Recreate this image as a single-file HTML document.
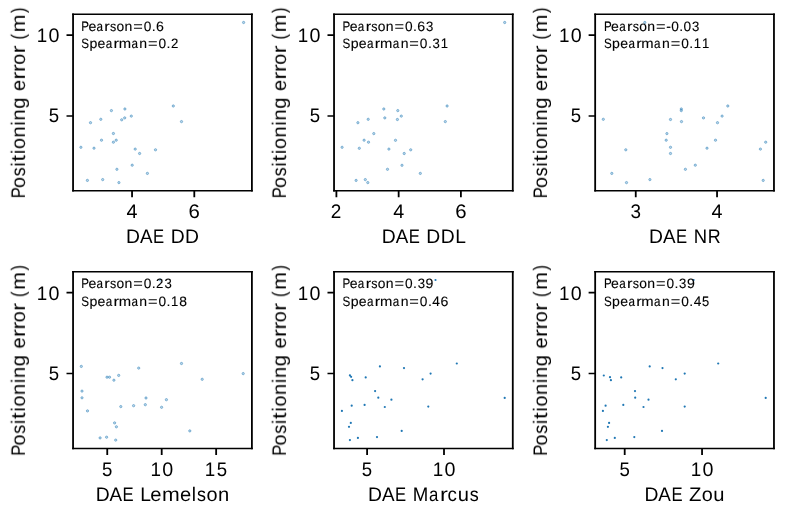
<!DOCTYPE html>
<html><head><meta charset="utf-8"><title>Positioning error vs DAE metrics</title>
<style>html,body{margin:0;padding:0;background:#fff;}body{width:785px;height:511px;overflow:hidden;}svg{display:block;font-family:"Liberation Sans",sans-serif;}text{will-change:transform;text-rendering:geometricPrecision;fill:#000;stroke:#000;}.l{font-size:19.64px;stroke-width:0.0px;}.a{font-size:13.65px;stroke-width:0.12px;}</style></head><body>
<svg width="785" height="511" viewBox="0 0 785 511">
<rect x="0" y="0" width="785" height="511" fill="#fff"/>
<g fill="#1f77b4" fill-opacity="0.3" stroke="#1f77b4" stroke-opacity="0.62" stroke-width="0.75"><circle cx="243.6" cy="22.5" r="1.15"/><circle cx="173.3" cy="106.0" r="1.15"/><circle cx="181.5" cy="121.6" r="1.15"/><circle cx="111.4" cy="110.6" r="1.15"/><circle cx="124.9" cy="109.0" r="1.15"/><circle cx="131.3" cy="116.1" r="1.15"/><circle cx="124.7" cy="117.9" r="1.15"/><circle cx="121.7" cy="119.8" r="1.15"/><circle cx="100.8" cy="119.3" r="1.15"/><circle cx="90.5" cy="122.7" r="1.15"/><circle cx="113.4" cy="133.5" r="1.15"/><circle cx="101.5" cy="140.2" r="1.15"/><circle cx="113.4" cy="142.2" r="1.15"/><circle cx="116.2" cy="140.2" r="1.15"/><circle cx="80.9" cy="147.3" r="1.15"/><circle cx="94.0" cy="148.2" r="1.15"/><circle cx="135.2" cy="149.1" r="1.15"/><circle cx="139.6" cy="153.5" r="1.15"/><circle cx="155.5" cy="149.8" r="1.15"/><circle cx="132.2" cy="165.2" r="1.15"/><circle cx="116.9" cy="169.3" r="1.15"/><circle cx="147.4" cy="173.4" r="1.15"/><circle cx="87.4" cy="180.4" r="1.15"/><circle cx="102.7" cy="179.6" r="1.15"/><circle cx="118.9" cy="182.6" r="1.15"/></g>
<g stroke="#000" fill="none"><path d="M73.06 13.49V191.58M251.90 13.49V191.58" stroke-width="1.8"/><path d="M72.16 14.27H252.80M72.16 190.80H252.80" stroke-width="1.55"/><path d="M66.51 35.10H73.06M66.51 115.90H73.06" stroke-width="1.55"/><path d="M132.05 190.80V197.35M194.30 190.80V197.35" stroke-width="1.8"/></g>
<g><text class="a" transform="matrix(1 0 0 1 80.90 31.00)" y="0"><tspan x="0.30" textLength="7.74" lengthAdjust="spacingAndGlyphs">P</tspan><tspan x="7.50" textLength="7.81" lengthAdjust="spacingAndGlyphs">e</tspan><tspan x="15.66" textLength="6.50" lengthAdjust="spacingAndGlyphs">a</tspan><tspan x="23.47" textLength="5.45" lengthAdjust="spacingAndGlyphs">r</tspan><tspan x="29.04" textLength="6.23" lengthAdjust="spacingAndGlyphs">s</tspan><tspan x="35.59" textLength="7.69" lengthAdjust="spacingAndGlyphs">o</tspan><tspan x="43.66" textLength="7.80" lengthAdjust="spacingAndGlyphs">n</tspan><tspan x="52.32" textLength="9.57" lengthAdjust="spacingAndGlyphs">=</tspan><tspan x="62.87" textLength="7.62" lengthAdjust="spacingAndGlyphs">0</tspan><tspan x="70.92" textLength="3.91" lengthAdjust="spacingAndGlyphs">.</tspan><tspan x="75.13" textLength="7.89" lengthAdjust="spacingAndGlyphs">6</tspan></text><text class="a" transform="matrix(1 0 0 1 80.90 48.00)" y="0"><tspan x="0.33" textLength="7.74" lengthAdjust="spacingAndGlyphs">S</tspan><tspan x="8.52" textLength="7.87" lengthAdjust="spacingAndGlyphs">p</tspan><tspan x="16.62" textLength="7.81" lengthAdjust="spacingAndGlyphs">e</tspan><tspan x="24.79" textLength="6.50" lengthAdjust="spacingAndGlyphs">a</tspan><tspan x="32.60" textLength="5.45" lengthAdjust="spacingAndGlyphs">r</tspan><tspan x="37.78" textLength="12.34" lengthAdjust="spacingAndGlyphs">m</tspan><tspan x="50.53" textLength="6.50" lengthAdjust="spacingAndGlyphs">a</tspan><tspan x="58.46" textLength="7.80" lengthAdjust="spacingAndGlyphs">n</tspan><tspan x="67.12" textLength="9.57" lengthAdjust="spacingAndGlyphs">=</tspan><tspan x="77.67" textLength="7.62" lengthAdjust="spacingAndGlyphs">0</tspan><tspan x="85.72" textLength="3.91" lengthAdjust="spacingAndGlyphs">.</tspan><tspan x="90.04" textLength="7.35" lengthAdjust="spacingAndGlyphs">2</tspan></text><text class="l" transform="matrix(1 0 0 1 36.16 42.00)" y="0"><tspan x="0.62" textLength="10.47" lengthAdjust="spacingAndGlyphs">1</tspan><tspan x="12.36" textLength="10.96" lengthAdjust="spacingAndGlyphs">0</tspan></text><text class="l" transform="matrix(1 0 0 1 48.06 122.00)" y="0"><tspan x="0.70" textLength="10.35" lengthAdjust="spacingAndGlyphs">5</tspan></text><text class="l" transform="matrix(1 0 0 1 126.10 218.00)" y="0"><tspan x="0.46" textLength="10.96" lengthAdjust="spacingAndGlyphs">4</tspan></text><text class="l" transform="matrix(1 0 0 1 188.35 218.00)" y="0"><tspan x="0.27" textLength="11.35" lengthAdjust="spacingAndGlyphs">6</tspan></text><text class="l" transform="matrix(1 0 0 1 125.77 243.00)" y="0"><tspan x="0.25" textLength="13.97" lengthAdjust="spacingAndGlyphs">D</tspan><tspan x="14.18" textLength="12.56" lengthAdjust="spacingAndGlyphs">A</tspan><tspan x="27.20" textLength="11.13" lengthAdjust="spacingAndGlyphs">E</tspan> <tspan x="44.87" textLength="13.97" lengthAdjust="spacingAndGlyphs">D</tspan><tspan x="59.27" textLength="13.97" lengthAdjust="spacingAndGlyphs">D</tspan></text><text class="l" transform="matrix(0 -1 1 0 24.90 198.78)" y="0"><tspan x="0.43" textLength="11.13" lengthAdjust="spacingAndGlyphs">P</tspan><tspan x="10.81" textLength="11.06" lengthAdjust="spacingAndGlyphs">o</tspan><tspan x="22.57" textLength="8.96" lengthAdjust="spacingAndGlyphs">s</tspan><tspan x="32.28" textLength="4.25" lengthAdjust="spacingAndGlyphs">i</tspan><tspan x="37.32" textLength="6.55" lengthAdjust="spacingAndGlyphs">t</tspan><tspan x="44.80" textLength="4.25" lengthAdjust="spacingAndGlyphs">i</tspan><tspan x="49.71" textLength="11.06" lengthAdjust="spacingAndGlyphs">o</tspan><tspan x="61.32" textLength="11.21" lengthAdjust="spacingAndGlyphs">n</tspan><tspan x="73.29" textLength="4.25" lengthAdjust="spacingAndGlyphs">i</tspan><tspan x="78.36" textLength="11.21" lengthAdjust="spacingAndGlyphs">n</tspan><tspan x="90.04" textLength="11.30" lengthAdjust="spacingAndGlyphs">g</tspan> <tspan x="107.84" textLength="11.23" lengthAdjust="spacingAndGlyphs">e</tspan><tspan x="119.36" textLength="7.85" lengthAdjust="spacingAndGlyphs">r</tspan><tspan x="126.72" textLength="7.85" lengthAdjust="spacingAndGlyphs">r</tspan><tspan x="134.01" textLength="11.06" lengthAdjust="spacingAndGlyphs">o</tspan><tspan x="145.44" textLength="7.85" lengthAdjust="spacingAndGlyphs">r</tspan> <tspan x="159.34" textLength="5.56" lengthAdjust="spacingAndGlyphs">(</tspan><tspan x="166.47" textLength="17.75" lengthAdjust="spacingAndGlyphs">m</tspan><tspan x="185.68" textLength="5.56" lengthAdjust="spacingAndGlyphs">)</tspan></text></g>
<g fill="#1f77b4" fill-opacity="0.3" stroke="#1f77b4" stroke-opacity="0.62" stroke-width="0.75"><circle cx="504.7" cy="22.5" r="1.15"/><circle cx="447.1" cy="106.0" r="1.15"/><circle cx="445.3" cy="121.6" r="1.15"/><circle cx="383.8" cy="109.0" r="1.15"/><circle cx="397.8" cy="110.6" r="1.15"/><circle cx="401.3" cy="116.1" r="1.15"/><circle cx="384.8" cy="117.9" r="1.15"/><circle cx="397.4" cy="119.5" r="1.15"/><circle cx="368.2" cy="119.3" r="1.15"/><circle cx="357.9" cy="122.7" r="1.15"/><circle cx="373.8" cy="133.6" r="1.15"/><circle cx="364.1" cy="140.2" r="1.15"/><circle cx="368.5" cy="142.2" r="1.15"/><circle cx="395.5" cy="140.3" r="1.15"/><circle cx="342.1" cy="147.3" r="1.15"/><circle cx="359.3" cy="148.3" r="1.15"/><circle cx="388.9" cy="149.1" r="1.15"/><circle cx="410.7" cy="149.8" r="1.15"/><circle cx="404.2" cy="153.5" r="1.15"/><circle cx="402.0" cy="165.3" r="1.15"/><circle cx="387.5" cy="169.3" r="1.15"/><circle cx="420.3" cy="173.4" r="1.15"/><circle cx="356.1" cy="180.4" r="1.15"/><circle cx="365.3" cy="179.6" r="1.15"/><circle cx="367.8" cy="182.6" r="1.15"/></g>
<g stroke="#000" fill="none"><path d="M334.04 13.49V191.58M512.78 13.49V191.58" stroke-width="1.8"/><path d="M333.14 14.27H513.68M333.14 190.80H513.68" stroke-width="1.55"/><path d="M327.49 35.10H334.04M327.49 115.90H334.04" stroke-width="1.55"/><path d="M336.40 190.80V197.35M398.65 190.80V197.35M460.90 190.80V197.35" stroke-width="1.8"/></g>
<g><text class="a" transform="matrix(1 0 0 1 342.20 31.00)" y="0"><tspan x="0.30" textLength="7.74" lengthAdjust="spacingAndGlyphs">P</tspan><tspan x="7.50" textLength="7.81" lengthAdjust="spacingAndGlyphs">e</tspan><tspan x="15.66" textLength="6.50" lengthAdjust="spacingAndGlyphs">a</tspan><tspan x="23.47" textLength="5.45" lengthAdjust="spacingAndGlyphs">r</tspan><tspan x="29.04" textLength="6.23" lengthAdjust="spacingAndGlyphs">s</tspan><tspan x="35.59" textLength="7.69" lengthAdjust="spacingAndGlyphs">o</tspan><tspan x="43.66" textLength="7.80" lengthAdjust="spacingAndGlyphs">n</tspan><tspan x="52.32" textLength="9.57" lengthAdjust="spacingAndGlyphs">=</tspan><tspan x="62.87" textLength="7.62" lengthAdjust="spacingAndGlyphs">0</tspan><tspan x="70.92" textLength="3.91" lengthAdjust="spacingAndGlyphs">.</tspan><tspan x="75.13" textLength="7.89" lengthAdjust="spacingAndGlyphs">6</tspan><tspan x="83.71" textLength="7.32" lengthAdjust="spacingAndGlyphs">3</tspan></text><text class="a" transform="matrix(1 0 0 1 342.20 48.00)" y="0"><tspan x="0.33" textLength="7.74" lengthAdjust="spacingAndGlyphs">S</tspan><tspan x="8.52" textLength="7.87" lengthAdjust="spacingAndGlyphs">p</tspan><tspan x="16.62" textLength="7.81" lengthAdjust="spacingAndGlyphs">e</tspan><tspan x="24.79" textLength="6.50" lengthAdjust="spacingAndGlyphs">a</tspan><tspan x="32.60" textLength="5.45" lengthAdjust="spacingAndGlyphs">r</tspan><tspan x="37.78" textLength="12.34" lengthAdjust="spacingAndGlyphs">m</tspan><tspan x="50.53" textLength="6.50" lengthAdjust="spacingAndGlyphs">a</tspan><tspan x="58.46" textLength="7.80" lengthAdjust="spacingAndGlyphs">n</tspan><tspan x="67.12" textLength="9.57" lengthAdjust="spacingAndGlyphs">=</tspan><tspan x="77.67" textLength="7.62" lengthAdjust="spacingAndGlyphs">0</tspan><tspan x="85.72" textLength="3.91" lengthAdjust="spacingAndGlyphs">.</tspan><tspan x="90.24" textLength="7.32" lengthAdjust="spacingAndGlyphs">3</tspan><tspan x="98.45" textLength="7.28" lengthAdjust="spacingAndGlyphs">1</tspan></text><text class="l" transform="matrix(1 0 0 1 297.14 42.00)" y="0"><tspan x="0.62" textLength="10.47" lengthAdjust="spacingAndGlyphs">1</tspan><tspan x="12.36" textLength="10.96" lengthAdjust="spacingAndGlyphs">0</tspan></text><text class="l" transform="matrix(1 0 0 1 309.04 122.00)" y="0"><tspan x="0.70" textLength="10.35" lengthAdjust="spacingAndGlyphs">5</tspan></text><text class="l" transform="matrix(1 0 0 1 330.45 218.00)" y="0"><tspan x="0.41" textLength="10.57" lengthAdjust="spacingAndGlyphs">2</tspan></text><text class="l" transform="matrix(1 0 0 1 392.70 218.00)" y="0"><tspan x="0.46" textLength="10.96" lengthAdjust="spacingAndGlyphs">4</tspan></text><text class="l" transform="matrix(1 0 0 1 454.95 218.00)" y="0"><tspan x="0.27" textLength="11.35" lengthAdjust="spacingAndGlyphs">6</tspan></text><text class="l" transform="matrix(1 0 0 1 381.49 243.00)" y="0"><tspan x="0.25" textLength="13.97" lengthAdjust="spacingAndGlyphs">D</tspan><tspan x="14.18" textLength="12.56" lengthAdjust="spacingAndGlyphs">A</tspan><tspan x="27.20" textLength="11.13" lengthAdjust="spacingAndGlyphs">E</tspan> <tspan x="44.87" textLength="13.97" lengthAdjust="spacingAndGlyphs">D</tspan><tspan x="59.27" textLength="13.97" lengthAdjust="spacingAndGlyphs">D</tspan><tspan x="73.68" textLength="10.70" lengthAdjust="spacingAndGlyphs">L</tspan></text><text class="l" transform="matrix(0 -1 1 0 285.90 198.78)" y="0"><tspan x="0.43" textLength="11.13" lengthAdjust="spacingAndGlyphs">P</tspan><tspan x="10.81" textLength="11.06" lengthAdjust="spacingAndGlyphs">o</tspan><tspan x="22.57" textLength="8.96" lengthAdjust="spacingAndGlyphs">s</tspan><tspan x="32.28" textLength="4.25" lengthAdjust="spacingAndGlyphs">i</tspan><tspan x="37.32" textLength="6.55" lengthAdjust="spacingAndGlyphs">t</tspan><tspan x="44.80" textLength="4.25" lengthAdjust="spacingAndGlyphs">i</tspan><tspan x="49.71" textLength="11.06" lengthAdjust="spacingAndGlyphs">o</tspan><tspan x="61.32" textLength="11.21" lengthAdjust="spacingAndGlyphs">n</tspan><tspan x="73.29" textLength="4.25" lengthAdjust="spacingAndGlyphs">i</tspan><tspan x="78.36" textLength="11.21" lengthAdjust="spacingAndGlyphs">n</tspan><tspan x="90.04" textLength="11.30" lengthAdjust="spacingAndGlyphs">g</tspan> <tspan x="107.84" textLength="11.23" lengthAdjust="spacingAndGlyphs">e</tspan><tspan x="119.36" textLength="7.85" lengthAdjust="spacingAndGlyphs">r</tspan><tspan x="126.72" textLength="7.85" lengthAdjust="spacingAndGlyphs">r</tspan><tspan x="134.01" textLength="11.06" lengthAdjust="spacingAndGlyphs">o</tspan><tspan x="145.44" textLength="7.85" lengthAdjust="spacingAndGlyphs">r</tspan> <tspan x="159.34" textLength="5.56" lengthAdjust="spacingAndGlyphs">(</tspan><tspan x="166.47" textLength="17.75" lengthAdjust="spacingAndGlyphs">m</tspan><tspan x="185.68" textLength="5.56" lengthAdjust="spacingAndGlyphs">)</tspan></text></g>
<g fill="#1f77b4" fill-opacity="0.3" stroke="#1f77b4" stroke-opacity="0.62" stroke-width="0.75"><circle cx="644.8" cy="22.5" r="1.15"/><circle cx="727.8" cy="106.0" r="1.15"/><circle cx="681.3" cy="109.0" r="1.15"/><circle cx="681.3" cy="110.6" r="1.15"/><circle cx="722.1" cy="116.1" r="1.15"/><circle cx="703.5" cy="117.9" r="1.15"/><circle cx="670.5" cy="119.5" r="1.15"/><circle cx="603.3" cy="119.3" r="1.15"/><circle cx="681.5" cy="121.6" r="1.15"/><circle cx="717.5" cy="122.7" r="1.15"/><circle cx="666.9" cy="133.6" r="1.15"/><circle cx="666.2" cy="140.2" r="1.15"/><circle cx="715.5" cy="140.2" r="1.15"/><circle cx="765.7" cy="142.2" r="1.15"/><circle cx="670.5" cy="147.3" r="1.15"/><circle cx="707.0" cy="148.2" r="1.15"/><circle cx="760.4" cy="149.1" r="1.15"/><circle cx="625.8" cy="149.8" r="1.15"/><circle cx="670.5" cy="153.5" r="1.15"/><circle cx="695.3" cy="165.2" r="1.15"/><circle cx="685.4" cy="169.3" r="1.15"/><circle cx="611.8" cy="173.4" r="1.15"/><circle cx="763.2" cy="180.4" r="1.15"/><circle cx="649.9" cy="179.6" r="1.15"/><circle cx="626.5" cy="182.6" r="1.15"/></g>
<g stroke="#000" fill="none"><path d="M595.17 13.49V191.58M773.96 13.49V191.58" stroke-width="1.8"/><path d="M594.27 14.27H774.86M594.27 190.80H774.86" stroke-width="1.55"/><path d="M588.62 35.10H595.17M588.62 115.90H595.17" stroke-width="1.55"/><path d="M635.75 190.80V197.35M717.05 190.80V197.35" stroke-width="1.8"/></g>
<g><text class="a" transform="matrix(1 0 0 1 603.60 31.00)" y="0"><tspan x="0.30" textLength="7.74" lengthAdjust="spacingAndGlyphs">P</tspan><tspan x="7.50" textLength="7.81" lengthAdjust="spacingAndGlyphs">e</tspan><tspan x="15.66" textLength="6.50" lengthAdjust="spacingAndGlyphs">a</tspan><tspan x="23.47" textLength="5.45" lengthAdjust="spacingAndGlyphs">r</tspan><tspan x="29.04" textLength="6.23" lengthAdjust="spacingAndGlyphs">s</tspan><tspan x="35.59" textLength="7.69" lengthAdjust="spacingAndGlyphs">o</tspan><tspan x="43.66" textLength="7.80" lengthAdjust="spacingAndGlyphs">n</tspan><tspan x="52.32" textLength="9.57" lengthAdjust="spacingAndGlyphs">=</tspan><tspan x="62.56" textLength="4.67" lengthAdjust="spacingAndGlyphs">-</tspan><tspan x="67.56" textLength="7.62" lengthAdjust="spacingAndGlyphs">0</tspan><tspan x="75.61" textLength="3.91" lengthAdjust="spacingAndGlyphs">.</tspan><tspan x="79.96" textLength="7.62" lengthAdjust="spacingAndGlyphs">0</tspan><tspan x="88.40" textLength="7.32" lengthAdjust="spacingAndGlyphs">3</tspan></text><text class="a" transform="matrix(1 0 0 1 603.60 48.00)" y="0"><tspan x="0.33" textLength="7.74" lengthAdjust="spacingAndGlyphs">S</tspan><tspan x="8.52" textLength="7.87" lengthAdjust="spacingAndGlyphs">p</tspan><tspan x="16.62" textLength="7.81" lengthAdjust="spacingAndGlyphs">e</tspan><tspan x="24.79" textLength="6.50" lengthAdjust="spacingAndGlyphs">a</tspan><tspan x="32.60" textLength="5.45" lengthAdjust="spacingAndGlyphs">r</tspan><tspan x="37.78" textLength="12.34" lengthAdjust="spacingAndGlyphs">m</tspan><tspan x="50.53" textLength="6.50" lengthAdjust="spacingAndGlyphs">a</tspan><tspan x="58.46" textLength="7.80" lengthAdjust="spacingAndGlyphs">n</tspan><tspan x="67.12" textLength="9.57" lengthAdjust="spacingAndGlyphs">=</tspan><tspan x="77.67" textLength="7.62" lengthAdjust="spacingAndGlyphs">0</tspan><tspan x="85.72" textLength="3.91" lengthAdjust="spacingAndGlyphs">.</tspan><tspan x="90.18" textLength="7.28" lengthAdjust="spacingAndGlyphs">1</tspan><tspan x="98.45" textLength="7.28" lengthAdjust="spacingAndGlyphs">1</tspan></text><text class="l" transform="matrix(1 0 0 1 558.27 42.00)" y="0"><tspan x="0.62" textLength="10.47" lengthAdjust="spacingAndGlyphs">1</tspan><tspan x="12.36" textLength="10.96" lengthAdjust="spacingAndGlyphs">0</tspan></text><text class="l" transform="matrix(1 0 0 1 570.17 122.00)" y="0"><tspan x="0.70" textLength="10.35" lengthAdjust="spacingAndGlyphs">5</tspan></text><text class="l" transform="matrix(1 0 0 1 629.80 218.00)" y="0"><tspan x="0.70" textLength="10.53" lengthAdjust="spacingAndGlyphs">3</tspan></text><text class="l" transform="matrix(1 0 0 1 711.10 218.00)" y="0"><tspan x="0.46" textLength="10.96" lengthAdjust="spacingAndGlyphs">4</tspan></text><text class="l" transform="matrix(1 0 0 1 648.76 243.00)" y="0"><tspan x="0.25" textLength="13.97" lengthAdjust="spacingAndGlyphs">D</tspan><tspan x="14.18" textLength="12.56" lengthAdjust="spacingAndGlyphs">A</tspan><tspan x="27.20" textLength="11.13" lengthAdjust="spacingAndGlyphs">E</tspan> <tspan x="44.94" textLength="13.34" lengthAdjust="spacingAndGlyphs">N</tspan><tspan x="58.98" textLength="12.92" lengthAdjust="spacingAndGlyphs">R</tspan></text><text class="l" transform="matrix(0 -1 1 0 547.00 198.78)" y="0"><tspan x="0.43" textLength="11.13" lengthAdjust="spacingAndGlyphs">P</tspan><tspan x="10.81" textLength="11.06" lengthAdjust="spacingAndGlyphs">o</tspan><tspan x="22.57" textLength="8.96" lengthAdjust="spacingAndGlyphs">s</tspan><tspan x="32.28" textLength="4.25" lengthAdjust="spacingAndGlyphs">i</tspan><tspan x="37.32" textLength="6.55" lengthAdjust="spacingAndGlyphs">t</tspan><tspan x="44.80" textLength="4.25" lengthAdjust="spacingAndGlyphs">i</tspan><tspan x="49.71" textLength="11.06" lengthAdjust="spacingAndGlyphs">o</tspan><tspan x="61.32" textLength="11.21" lengthAdjust="spacingAndGlyphs">n</tspan><tspan x="73.29" textLength="4.25" lengthAdjust="spacingAndGlyphs">i</tspan><tspan x="78.36" textLength="11.21" lengthAdjust="spacingAndGlyphs">n</tspan><tspan x="90.04" textLength="11.30" lengthAdjust="spacingAndGlyphs">g</tspan> <tspan x="107.84" textLength="11.23" lengthAdjust="spacingAndGlyphs">e</tspan><tspan x="119.36" textLength="7.85" lengthAdjust="spacingAndGlyphs">r</tspan><tspan x="126.72" textLength="7.85" lengthAdjust="spacingAndGlyphs">r</tspan><tspan x="134.01" textLength="11.06" lengthAdjust="spacingAndGlyphs">o</tspan><tspan x="145.44" textLength="7.85" lengthAdjust="spacingAndGlyphs">r</tspan> <tspan x="159.34" textLength="5.56" lengthAdjust="spacingAndGlyphs">(</tspan><tspan x="166.47" textLength="17.75" lengthAdjust="spacingAndGlyphs">m</tspan><tspan x="185.68" textLength="5.56" lengthAdjust="spacingAndGlyphs">)</tspan></text></g>
<g fill="#1f77b4" fill-opacity="0.3" stroke="#1f77b4" stroke-opacity="0.62" stroke-width="0.75"><circle cx="160.4" cy="280.0" r="1.15"/><circle cx="181.5" cy="363.5" r="1.15"/><circle cx="81.3" cy="366.4" r="1.15"/><circle cx="138.7" cy="368.1" r="1.15"/><circle cx="243.2" cy="373.6" r="1.15"/><circle cx="118.7" cy="375.4" r="1.15"/><circle cx="107.0" cy="377.2" r="1.15"/><circle cx="109.5" cy="377.2" r="1.15"/><circle cx="113.9" cy="380.2" r="1.15"/><circle cx="202.2" cy="379.3" r="1.15"/><circle cx="82.0" cy="391.1" r="1.15"/><circle cx="82.0" cy="397.8" r="1.15"/><circle cx="146.0" cy="398.0" r="1.15"/><circle cx="166.4" cy="399.7" r="1.15"/><circle cx="120.8" cy="406.6" r="1.15"/><circle cx="133.6" cy="405.7" r="1.15"/><circle cx="145.3" cy="404.7" r="1.15"/><circle cx="161.6" cy="407.3" r="1.15"/><circle cx="87.5" cy="410.9" r="1.15"/><circle cx="114.6" cy="422.9" r="1.15"/><circle cx="116.4" cy="426.8" r="1.15"/><circle cx="189.8" cy="430.9" r="1.15"/><circle cx="100.1" cy="437.9" r="1.15"/><circle cx="106.6" cy="437.2" r="1.15"/><circle cx="115.7" cy="440.1" r="1.15"/></g>
<g stroke="#000" fill="none"><path d="M73.06 271.00V449.17M251.90 271.00V449.17" stroke-width="1.8"/><path d="M72.16 271.77H252.80M72.16 448.40H252.80" stroke-width="1.55"/><path d="M66.51 292.60H73.06M66.51 373.40H73.06" stroke-width="1.55"/><path d="M107.25 448.40V454.95M161.70 448.40V454.95M216.15 448.40V454.95" stroke-width="1.8"/></g>
<g><text class="a" transform="matrix(1 0 0 1 80.90 288.00)" y="0"><tspan x="0.30" textLength="7.74" lengthAdjust="spacingAndGlyphs">P</tspan><tspan x="7.50" textLength="7.81" lengthAdjust="spacingAndGlyphs">e</tspan><tspan x="15.66" textLength="6.50" lengthAdjust="spacingAndGlyphs">a</tspan><tspan x="23.47" textLength="5.45" lengthAdjust="spacingAndGlyphs">r</tspan><tspan x="29.04" textLength="6.23" lengthAdjust="spacingAndGlyphs">s</tspan><tspan x="35.59" textLength="7.69" lengthAdjust="spacingAndGlyphs">o</tspan><tspan x="43.66" textLength="7.80" lengthAdjust="spacingAndGlyphs">n</tspan><tspan x="52.32" textLength="9.57" lengthAdjust="spacingAndGlyphs">=</tspan><tspan x="62.87" textLength="7.62" lengthAdjust="spacingAndGlyphs">0</tspan><tspan x="70.92" textLength="3.91" lengthAdjust="spacingAndGlyphs">.</tspan><tspan x="75.23" textLength="7.35" lengthAdjust="spacingAndGlyphs">2</tspan><tspan x="83.71" textLength="7.32" lengthAdjust="spacingAndGlyphs">3</tspan></text><text class="a" transform="matrix(1 0 0 1 80.90 306.00)" y="0"><tspan x="0.33" textLength="7.74" lengthAdjust="spacingAndGlyphs">S</tspan><tspan x="8.52" textLength="7.87" lengthAdjust="spacingAndGlyphs">p</tspan><tspan x="16.62" textLength="7.81" lengthAdjust="spacingAndGlyphs">e</tspan><tspan x="24.79" textLength="6.50" lengthAdjust="spacingAndGlyphs">a</tspan><tspan x="32.60" textLength="5.45" lengthAdjust="spacingAndGlyphs">r</tspan><tspan x="37.78" textLength="12.34" lengthAdjust="spacingAndGlyphs">m</tspan><tspan x="50.53" textLength="6.50" lengthAdjust="spacingAndGlyphs">a</tspan><tspan x="58.46" textLength="7.80" lengthAdjust="spacingAndGlyphs">n</tspan><tspan x="67.12" textLength="9.57" lengthAdjust="spacingAndGlyphs">=</tspan><tspan x="77.67" textLength="7.62" lengthAdjust="spacingAndGlyphs">0</tspan><tspan x="85.72" textLength="3.91" lengthAdjust="spacingAndGlyphs">.</tspan><tspan x="90.18" textLength="7.28" lengthAdjust="spacingAndGlyphs">1</tspan><tspan x="98.30" textLength="7.70" lengthAdjust="spacingAndGlyphs">8</tspan></text><text class="l" transform="matrix(1 0 0 1 36.16 300.00)" y="0"><tspan x="0.62" textLength="10.47" lengthAdjust="spacingAndGlyphs">1</tspan><tspan x="12.36" textLength="10.96" lengthAdjust="spacingAndGlyphs">0</tspan></text><text class="l" transform="matrix(1 0 0 1 48.06 380.00)" y="0"><tspan x="0.70" textLength="10.35" lengthAdjust="spacingAndGlyphs">5</tspan></text><text class="l" transform="matrix(1 0 0 1 101.30 476.00)" y="0"><tspan x="0.70" textLength="10.35" lengthAdjust="spacingAndGlyphs">5</tspan></text><text class="l" transform="matrix(1 0 0 1 149.80 476.00)" y="0"><tspan x="0.62" textLength="10.47" lengthAdjust="spacingAndGlyphs">1</tspan><tspan x="12.36" textLength="10.96" lengthAdjust="spacingAndGlyphs">0</tspan></text><text class="l" transform="matrix(1 0 0 1 204.25 476.00)" y="0"><tspan x="0.62" textLength="10.47" lengthAdjust="spacingAndGlyphs">1</tspan><tspan x="12.60" textLength="10.35" lengthAdjust="spacingAndGlyphs">5</tspan></text><text class="l" transform="matrix(1 0 0 1 95.40 501.00)" y="0"><tspan x="0.25" textLength="13.97" lengthAdjust="spacingAndGlyphs">D</tspan><tspan x="14.18" textLength="12.56" lengthAdjust="spacingAndGlyphs">A</tspan><tspan x="27.20" textLength="11.13" lengthAdjust="spacingAndGlyphs">E</tspan> <tspan x="44.88" textLength="10.70" lengthAdjust="spacingAndGlyphs">L</tspan><tspan x="54.89" textLength="11.23" lengthAdjust="spacingAndGlyphs">e</tspan><tspan x="66.50" textLength="17.75" lengthAdjust="spacingAndGlyphs">m</tspan><tspan x="84.61" textLength="11.23" lengthAdjust="spacingAndGlyphs">e</tspan><tspan x="96.41" textLength="4.25" lengthAdjust="spacingAndGlyphs">l</tspan><tspan x="101.65" textLength="8.96" lengthAdjust="spacingAndGlyphs">s</tspan><tspan x="111.07" textLength="11.06" lengthAdjust="spacingAndGlyphs">o</tspan><tspan x="122.68" textLength="11.21" lengthAdjust="spacingAndGlyphs">n</tspan></text><text class="l" transform="matrix(0 -1 1 0 24.90 456.33)" y="0"><tspan x="0.43" textLength="11.13" lengthAdjust="spacingAndGlyphs">P</tspan><tspan x="10.81" textLength="11.06" lengthAdjust="spacingAndGlyphs">o</tspan><tspan x="22.57" textLength="8.96" lengthAdjust="spacingAndGlyphs">s</tspan><tspan x="32.28" textLength="4.25" lengthAdjust="spacingAndGlyphs">i</tspan><tspan x="37.32" textLength="6.55" lengthAdjust="spacingAndGlyphs">t</tspan><tspan x="44.80" textLength="4.25" lengthAdjust="spacingAndGlyphs">i</tspan><tspan x="49.71" textLength="11.06" lengthAdjust="spacingAndGlyphs">o</tspan><tspan x="61.32" textLength="11.21" lengthAdjust="spacingAndGlyphs">n</tspan><tspan x="73.29" textLength="4.25" lengthAdjust="spacingAndGlyphs">i</tspan><tspan x="78.36" textLength="11.21" lengthAdjust="spacingAndGlyphs">n</tspan><tspan x="90.04" textLength="11.30" lengthAdjust="spacingAndGlyphs">g</tspan> <tspan x="107.84" textLength="11.23" lengthAdjust="spacingAndGlyphs">e</tspan><tspan x="119.36" textLength="7.85" lengthAdjust="spacingAndGlyphs">r</tspan><tspan x="126.72" textLength="7.85" lengthAdjust="spacingAndGlyphs">r</tspan><tspan x="134.01" textLength="11.06" lengthAdjust="spacingAndGlyphs">o</tspan><tspan x="145.44" textLength="7.85" lengthAdjust="spacingAndGlyphs">r</tspan> <tspan x="159.34" textLength="5.56" lengthAdjust="spacingAndGlyphs">(</tspan><tspan x="166.47" textLength="17.75" lengthAdjust="spacingAndGlyphs">m</tspan><tspan x="185.68" textLength="5.56" lengthAdjust="spacingAndGlyphs">)</tspan></text></g>
<g fill="#1f77b4"><circle cx="435.5" cy="280.0" r="1.1"/><circle cx="456.8" cy="363.5" r="1.1"/><circle cx="379.9" cy="366.4" r="1.1"/><circle cx="404.0" cy="368.1" r="1.1"/><circle cx="430.6" cy="373.6" r="1.1"/><circle cx="349.9" cy="375.4" r="1.1"/><circle cx="351.1" cy="376.8" r="1.1"/><circle cx="365.7" cy="377.4" r="1.1"/><circle cx="352.4" cy="380.2" r="1.1"/><circle cx="422.6" cy="379.3" r="1.1"/><circle cx="375.1" cy="391.1" r="1.1"/><circle cx="378.3" cy="397.7" r="1.1"/><circle cx="504.7" cy="397.9" r="1.1"/><circle cx="391.4" cy="399.7" r="1.1"/><circle cx="351.7" cy="405.7" r="1.1"/><circle cx="364.6" cy="404.9" r="1.1"/><circle cx="384.8" cy="407.0" r="1.1"/><circle cx="428.3" cy="406.6" r="1.1"/><circle cx="341.9" cy="410.9" r="1.1"/><circle cx="350.8" cy="422.9" r="1.1"/><circle cx="349.0" cy="426.8" r="1.1"/><circle cx="401.7" cy="430.9" r="1.1"/><circle cx="357.9" cy="437.9" r="1.1"/><circle cx="349.9" cy="440.1" r="1.1"/><circle cx="377.0" cy="437.1" r="1.1"/></g>
<g stroke="#000" fill="none"><path d="M334.04 271.00V449.17M512.78 271.00V449.17" stroke-width="1.8"/><path d="M333.14 271.77H513.68M333.14 448.40H513.68" stroke-width="1.55"/><path d="M327.49 292.60H334.04M327.49 373.40H334.04" stroke-width="1.55"/><path d="M367.10 448.40V454.95M444.00 448.40V454.95" stroke-width="1.8"/></g>
<g><text class="a" transform="matrix(1 0 0 1 342.20 288.00)" y="0"><tspan x="0.30" textLength="7.74" lengthAdjust="spacingAndGlyphs">P</tspan><tspan x="7.50" textLength="7.81" lengthAdjust="spacingAndGlyphs">e</tspan><tspan x="15.66" textLength="6.50" lengthAdjust="spacingAndGlyphs">a</tspan><tspan x="23.47" textLength="5.45" lengthAdjust="spacingAndGlyphs">r</tspan><tspan x="29.04" textLength="6.23" lengthAdjust="spacingAndGlyphs">s</tspan><tspan x="35.59" textLength="7.69" lengthAdjust="spacingAndGlyphs">o</tspan><tspan x="43.66" textLength="7.80" lengthAdjust="spacingAndGlyphs">n</tspan><tspan x="52.32" textLength="9.57" lengthAdjust="spacingAndGlyphs">=</tspan><tspan x="62.87" textLength="7.62" lengthAdjust="spacingAndGlyphs">0</tspan><tspan x="70.92" textLength="3.91" lengthAdjust="spacingAndGlyphs">.</tspan><tspan x="75.44" textLength="7.32" lengthAdjust="spacingAndGlyphs">3</tspan><tspan x="83.37" textLength="7.87" lengthAdjust="spacingAndGlyphs">9</tspan></text><text class="a" transform="matrix(1 0 0 1 342.20 306.00)" y="0"><tspan x="0.33" textLength="7.74" lengthAdjust="spacingAndGlyphs">S</tspan><tspan x="8.52" textLength="7.87" lengthAdjust="spacingAndGlyphs">p</tspan><tspan x="16.62" textLength="7.81" lengthAdjust="spacingAndGlyphs">e</tspan><tspan x="24.79" textLength="6.50" lengthAdjust="spacingAndGlyphs">a</tspan><tspan x="32.60" textLength="5.45" lengthAdjust="spacingAndGlyphs">r</tspan><tspan x="37.78" textLength="12.34" lengthAdjust="spacingAndGlyphs">m</tspan><tspan x="50.53" textLength="6.50" lengthAdjust="spacingAndGlyphs">a</tspan><tspan x="58.46" textLength="7.80" lengthAdjust="spacingAndGlyphs">n</tspan><tspan x="67.12" textLength="9.57" lengthAdjust="spacingAndGlyphs">=</tspan><tspan x="77.67" textLength="7.62" lengthAdjust="spacingAndGlyphs">0</tspan><tspan x="85.72" textLength="3.91" lengthAdjust="spacingAndGlyphs">.</tspan><tspan x="90.07" textLength="7.62" lengthAdjust="spacingAndGlyphs">4</tspan><tspan x="98.21" textLength="7.89" lengthAdjust="spacingAndGlyphs">6</tspan></text><text class="l" transform="matrix(1 0 0 1 297.14 300.00)" y="0"><tspan x="0.62" textLength="10.47" lengthAdjust="spacingAndGlyphs">1</tspan><tspan x="12.36" textLength="10.96" lengthAdjust="spacingAndGlyphs">0</tspan></text><text class="l" transform="matrix(1 0 0 1 309.04 380.00)" y="0"><tspan x="0.70" textLength="10.35" lengthAdjust="spacingAndGlyphs">5</tspan></text><text class="l" transform="matrix(1 0 0 1 361.15 476.00)" y="0"><tspan x="0.70" textLength="10.35" lengthAdjust="spacingAndGlyphs">5</tspan></text><text class="l" transform="matrix(1 0 0 1 432.10 476.00)" y="0"><tspan x="0.62" textLength="10.47" lengthAdjust="spacingAndGlyphs">1</tspan><tspan x="12.36" textLength="10.96" lengthAdjust="spacingAndGlyphs">0</tspan></text><text class="l" transform="matrix(1 0 0 1 367.73 501.00)" y="0"><tspan x="0.25" textLength="13.97" lengthAdjust="spacingAndGlyphs">D</tspan><tspan x="14.18" textLength="12.56" lengthAdjust="spacingAndGlyphs">A</tspan><tspan x="27.20" textLength="11.13" lengthAdjust="spacingAndGlyphs">E</tspan> <tspan x="44.93" textLength="15.53" lengthAdjust="spacingAndGlyphs">M</tspan><tspan x="61.17" textLength="9.35" lengthAdjust="spacingAndGlyphs">a</tspan><tspan x="72.40" textLength="7.85" lengthAdjust="spacingAndGlyphs">r</tspan><tspan x="79.73" textLength="9.38" lengthAdjust="spacingAndGlyphs">c</tspan><tspan x="90.05" textLength="11.21" lengthAdjust="spacingAndGlyphs">u</tspan><tspan x="102.14" textLength="8.96" lengthAdjust="spacingAndGlyphs">s</tspan></text><text class="l" transform="matrix(0 -1 1 0 285.90 456.33)" y="0"><tspan x="0.43" textLength="11.13" lengthAdjust="spacingAndGlyphs">P</tspan><tspan x="10.81" textLength="11.06" lengthAdjust="spacingAndGlyphs">o</tspan><tspan x="22.57" textLength="8.96" lengthAdjust="spacingAndGlyphs">s</tspan><tspan x="32.28" textLength="4.25" lengthAdjust="spacingAndGlyphs">i</tspan><tspan x="37.32" textLength="6.55" lengthAdjust="spacingAndGlyphs">t</tspan><tspan x="44.80" textLength="4.25" lengthAdjust="spacingAndGlyphs">i</tspan><tspan x="49.71" textLength="11.06" lengthAdjust="spacingAndGlyphs">o</tspan><tspan x="61.32" textLength="11.21" lengthAdjust="spacingAndGlyphs">n</tspan><tspan x="73.29" textLength="4.25" lengthAdjust="spacingAndGlyphs">i</tspan><tspan x="78.36" textLength="11.21" lengthAdjust="spacingAndGlyphs">n</tspan><tspan x="90.04" textLength="11.30" lengthAdjust="spacingAndGlyphs">g</tspan> <tspan x="107.84" textLength="11.23" lengthAdjust="spacingAndGlyphs">e</tspan><tspan x="119.36" textLength="7.85" lengthAdjust="spacingAndGlyphs">r</tspan><tspan x="126.72" textLength="7.85" lengthAdjust="spacingAndGlyphs">r</tspan><tspan x="134.01" textLength="11.06" lengthAdjust="spacingAndGlyphs">o</tspan><tspan x="145.44" textLength="7.85" lengthAdjust="spacingAndGlyphs">r</tspan> <tspan x="159.34" textLength="5.56" lengthAdjust="spacingAndGlyphs">(</tspan><tspan x="166.47" textLength="17.75" lengthAdjust="spacingAndGlyphs">m</tspan><tspan x="185.68" textLength="5.56" lengthAdjust="spacingAndGlyphs">)</tspan></text></g>
<g fill="#1f77b4"><circle cx="693.6" cy="280.0" r="1.1"/><circle cx="718.2" cy="363.5" r="1.1"/><circle cx="649.7" cy="366.4" r="1.1"/><circle cx="662.5" cy="368.1" r="1.1"/><circle cx="684.7" cy="373.6" r="1.1"/><circle cx="603.8" cy="375.5" r="1.1"/><circle cx="610.0" cy="377.2" r="1.1"/><circle cx="621.2" cy="377.4" r="1.1"/><circle cx="610.9" cy="380.2" r="1.1"/><circle cx="675.8" cy="379.3" r="1.1"/><circle cx="635.0" cy="391.1" r="1.1"/><circle cx="635.2" cy="397.7" r="1.1"/><circle cx="765.7" cy="397.9" r="1.1"/><circle cx="648.5" cy="399.7" r="1.1"/><circle cx="605.6" cy="405.7" r="1.1"/><circle cx="623.3" cy="404.9" r="1.1"/><circle cx="643.5" cy="407.0" r="1.1"/><circle cx="684.7" cy="406.6" r="1.1"/><circle cx="602.9" cy="410.9" r="1.1"/><circle cx="609.1" cy="422.9" r="1.1"/><circle cx="607.9" cy="426.8" r="1.1"/><circle cx="662.0" cy="430.9" r="1.1"/><circle cx="614.8" cy="437.9" r="1.1"/><circle cx="606.8" cy="440.1" r="1.1"/><circle cx="634.3" cy="437.1" r="1.1"/></g>
<g stroke="#000" fill="none"><path d="M595.17 271.00V449.17M773.96 271.00V449.17" stroke-width="1.8"/><path d="M594.27 271.77H774.86M594.27 448.40H774.86" stroke-width="1.55"/><path d="M588.62 292.60H595.17M588.62 373.40H595.17" stroke-width="1.55"/><path d="M624.70 448.40V454.95M702.05 448.40V454.95" stroke-width="1.8"/></g>
<g><text class="a" transform="matrix(1 0 0 1 603.60 288.00)" y="0"><tspan x="0.30" textLength="7.74" lengthAdjust="spacingAndGlyphs">P</tspan><tspan x="7.50" textLength="7.81" lengthAdjust="spacingAndGlyphs">e</tspan><tspan x="15.66" textLength="6.50" lengthAdjust="spacingAndGlyphs">a</tspan><tspan x="23.47" textLength="5.45" lengthAdjust="spacingAndGlyphs">r</tspan><tspan x="29.04" textLength="6.23" lengthAdjust="spacingAndGlyphs">s</tspan><tspan x="35.59" textLength="7.69" lengthAdjust="spacingAndGlyphs">o</tspan><tspan x="43.66" textLength="7.80" lengthAdjust="spacingAndGlyphs">n</tspan><tspan x="52.32" textLength="9.57" lengthAdjust="spacingAndGlyphs">=</tspan><tspan x="62.87" textLength="7.62" lengthAdjust="spacingAndGlyphs">0</tspan><tspan x="70.92" textLength="3.91" lengthAdjust="spacingAndGlyphs">.</tspan><tspan x="75.44" textLength="7.32" lengthAdjust="spacingAndGlyphs">3</tspan><tspan x="83.37" textLength="7.87" lengthAdjust="spacingAndGlyphs">9</tspan></text><text class="a" transform="matrix(1 0 0 1 603.60 306.00)" y="0"><tspan x="0.33" textLength="7.74" lengthAdjust="spacingAndGlyphs">S</tspan><tspan x="8.52" textLength="7.87" lengthAdjust="spacingAndGlyphs">p</tspan><tspan x="16.62" textLength="7.81" lengthAdjust="spacingAndGlyphs">e</tspan><tspan x="24.79" textLength="6.50" lengthAdjust="spacingAndGlyphs">a</tspan><tspan x="32.60" textLength="5.45" lengthAdjust="spacingAndGlyphs">r</tspan><tspan x="37.78" textLength="12.34" lengthAdjust="spacingAndGlyphs">m</tspan><tspan x="50.53" textLength="6.50" lengthAdjust="spacingAndGlyphs">a</tspan><tspan x="58.46" textLength="7.80" lengthAdjust="spacingAndGlyphs">n</tspan><tspan x="67.12" textLength="9.57" lengthAdjust="spacingAndGlyphs">=</tspan><tspan x="77.67" textLength="7.62" lengthAdjust="spacingAndGlyphs">0</tspan><tspan x="85.72" textLength="3.91" lengthAdjust="spacingAndGlyphs">.</tspan><tspan x="90.07" textLength="7.62" lengthAdjust="spacingAndGlyphs">4</tspan><tspan x="98.51" textLength="7.19" lengthAdjust="spacingAndGlyphs">5</tspan></text><text class="l" transform="matrix(1 0 0 1 558.27 300.00)" y="0"><tspan x="0.62" textLength="10.47" lengthAdjust="spacingAndGlyphs">1</tspan><tspan x="12.36" textLength="10.96" lengthAdjust="spacingAndGlyphs">0</tspan></text><text class="l" transform="matrix(1 0 0 1 570.17 380.00)" y="0"><tspan x="0.70" textLength="10.35" lengthAdjust="spacingAndGlyphs">5</tspan></text><text class="l" transform="matrix(1 0 0 1 618.75 476.00)" y="0"><tspan x="0.70" textLength="10.35" lengthAdjust="spacingAndGlyphs">5</tspan></text><text class="l" transform="matrix(1 0 0 1 690.15 476.00)" y="0"><tspan x="0.62" textLength="10.47" lengthAdjust="spacingAndGlyphs">1</tspan><tspan x="12.36" textLength="10.96" lengthAdjust="spacingAndGlyphs">0</tspan></text><text class="l" transform="matrix(1 0 0 1 644.20 501.00)" y="0"><tspan x="0.25" textLength="13.97" lengthAdjust="spacingAndGlyphs">D</tspan><tspan x="14.18" textLength="12.56" lengthAdjust="spacingAndGlyphs">A</tspan><tspan x="27.20" textLength="11.13" lengthAdjust="spacingAndGlyphs">E</tspan> <tspan x="44.82" textLength="12.41" lengthAdjust="spacingAndGlyphs">Z</tspan><tspan x="57.63" textLength="11.06" lengthAdjust="spacingAndGlyphs">o</tspan><tspan x="69.15" textLength="11.21" lengthAdjust="spacingAndGlyphs">u</tspan></text><text class="l" transform="matrix(0 -1 1 0 547.00 456.33)" y="0"><tspan x="0.43" textLength="11.13" lengthAdjust="spacingAndGlyphs">P</tspan><tspan x="10.81" textLength="11.06" lengthAdjust="spacingAndGlyphs">o</tspan><tspan x="22.57" textLength="8.96" lengthAdjust="spacingAndGlyphs">s</tspan><tspan x="32.28" textLength="4.25" lengthAdjust="spacingAndGlyphs">i</tspan><tspan x="37.32" textLength="6.55" lengthAdjust="spacingAndGlyphs">t</tspan><tspan x="44.80" textLength="4.25" lengthAdjust="spacingAndGlyphs">i</tspan><tspan x="49.71" textLength="11.06" lengthAdjust="spacingAndGlyphs">o</tspan><tspan x="61.32" textLength="11.21" lengthAdjust="spacingAndGlyphs">n</tspan><tspan x="73.29" textLength="4.25" lengthAdjust="spacingAndGlyphs">i</tspan><tspan x="78.36" textLength="11.21" lengthAdjust="spacingAndGlyphs">n</tspan><tspan x="90.04" textLength="11.30" lengthAdjust="spacingAndGlyphs">g</tspan> <tspan x="107.84" textLength="11.23" lengthAdjust="spacingAndGlyphs">e</tspan><tspan x="119.36" textLength="7.85" lengthAdjust="spacingAndGlyphs">r</tspan><tspan x="126.72" textLength="7.85" lengthAdjust="spacingAndGlyphs">r</tspan><tspan x="134.01" textLength="11.06" lengthAdjust="spacingAndGlyphs">o</tspan><tspan x="145.44" textLength="7.85" lengthAdjust="spacingAndGlyphs">r</tspan> <tspan x="159.34" textLength="5.56" lengthAdjust="spacingAndGlyphs">(</tspan><tspan x="166.47" textLength="17.75" lengthAdjust="spacingAndGlyphs">m</tspan><tspan x="185.68" textLength="5.56" lengthAdjust="spacingAndGlyphs">)</tspan></text></g>
</svg></body></html>
